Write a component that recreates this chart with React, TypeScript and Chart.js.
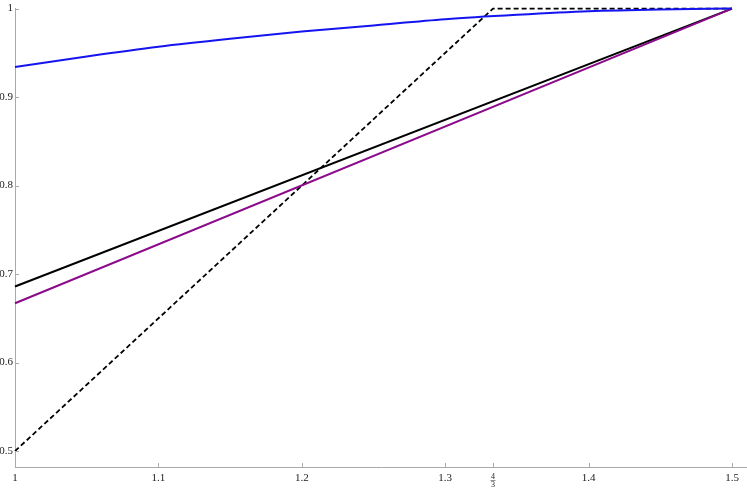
import React, { useEffect, useRef } from "react";
import { Chart, registerables } from "chart.js";

Chart.register(...registerables);

// Data
const blueX = [1, 1.05, 1.1, 1.15, 1.2, 1.25, 1.3, 1.35, 1.4, 1.45, 1.5];
const blueY = [0.934, 0.946, 0.957, 0.966, 0.974, 0.981, 0.988, 0.993, 0.997, 0.999, 1.0];
const lineX = [1, 1.5];
const blackY = [0.686, 1.0];
const purpleY = [0.667, 1.0];
const dashedX = [1, 4 / 3, 1.5];
const dashedY = [0.5, 1.0, 1.0];

const xTicks = [1, 1.1, 1.2, 1.3, 4 / 3, 1.4, 1.5];
const xTickLabels = ["1", "1.1", "1.2", "1.3", "", "1.4", "1.5"];
const yTicks = [0.5, 0.6, 0.7, 0.8, 0.9, 1.0];
const yTickLabels = ["0.5", "0.6", "0.7", "0.8", "0.9", "1"];

const FONT = "'Liberation Serif', 'DejaVu Serif', serif";

const zip = (xs: number[], ys: number[]) => xs.map((x, i) => ({ x, y: ys[i] }));

const axisDecor = {
  id: "axisDecor",
  afterDraw(chart: any) {
    const ctx = chart.ctx;
    const xs = chart.scales.x;
    const ys = chart.scales.y;
    const area = chart.chartArea;
    ctx.save();
    ctx.strokeStyle = "#aaaaaa";
    ctx.lineWidth = 1;
    // inward tick marks
    xTicks.forEach((v) => {
      const px = Math.round(xs.getPixelForValue(v)) + 0.5;
      ctx.beginPath();
      ctx.moveTo(px, area.bottom);
      ctx.lineTo(px, area.bottom - 4);
      ctx.stroke();
    });
    yTicks.forEach((v) => {
      const py = Math.round(ys.getPixelForValue(v)) + 0.5;
      ctx.beginPath();
      ctx.moveTo(area.left, py);
      ctx.lineTo(area.left + 4, py);
      ctx.stroke();
    });
    // 4/3 fraction label
    const fx = xs.getPixelForValue(4 / 3);
    ctx.fillStyle = "#222";
    ctx.font = `8px ${FONT}`;
    ctx.textAlign = "center";
    ctx.textBaseline = "alphabetic";
    ctx.fillText("4", fx, area.bottom + 12);
    ctx.fillText("3", fx, area.bottom + 20);
    ctx.strokeStyle = "#444";
    ctx.lineWidth = 0.6;
    ctx.beginPath();
    ctx.moveTo(fx - 2.5, area.bottom + 13.5);
    ctx.lineTo(fx + 2.5, area.bottom + 13.5);
    ctx.stroke();
    ctx.restore();
  },
};

export default function App() {
  const ref = useRef<HTMLCanvasElement>(null);
  useEffect(() => {
    document.body.style.margin = "0";
    const chart = new Chart(ref.current as HTMLCanvasElement, {
      type: "line",
      data: {
        datasets: [
          {
            data: zip(blueX, blueY),
            borderColor: "#1414f0",
            borderWidth: 2,
            pointRadius: 0,
            cubicInterpolationMode: "monotone",
            clip: false,
          },
          {
            data: zip(lineX, purpleY),
            borderColor: "#8b0a8b",
            borderWidth: 2,
            pointRadius: 0,
            clip: false,
          },
          {
            data: zip(lineX, blackY),
            borderColor: "#000000",
            borderWidth: 2,
            pointRadius: 0,
            clip: false,
          },
          {
            data: zip(dashedX, dashedY),
            borderColor: "#000000",
            borderWidth: 1.8,
            borderDash: [5, 3],
            pointRadius: 0,
            clip: false,
          },
        ],
      } as any,
      options: {
        animation: false,
        responsive: false,
        layout: { padding: { left: 0, right: 0, top: 6, bottom: 0 } },
        plugins: { legend: { display: false }, tooltip: { enabled: false } },
        scales: {
          x: {
            type: "linear",
            min: 1,
            max: 1 + 732 / 1434,
            grid: { display: false, drawTicks: false },
            border: { display: true, color: "#aaaaaa", width: 1 },
            afterBuildTicks: (s: any) => {
              s.ticks = xTicks.map((v) => ({ value: v }));
            },
            afterFit: (s: any) => {
              s.height = 21;
            },
            ticks: {
              padding: 5,
              autoSkip: false,
              maxRotation: 0,
              color: "#222",
              font: { family: FONT, size: 11 },
              callback: (v: any) => {
                const i = xTicks.findIndex((t) => Math.abs(t - Number(v)) < 1e-9);
                return i >= 0 ? xTickLabels[i] : "";
              },
            },
          },
          y: {
            type: "linear",
            min: 1 - 461 / 890,
            max: 1,
            grid: { display: false, drawTicks: false },
            border: { display: true, color: "#aaaaaa", width: 1 },
            afterBuildTicks: (s: any) => {
              s.ticks = yTicks.map((v) => ({ value: v }));
            },
            afterFit: (s: any) => {
              s.width = 15;
            },
            ticks: {
              padding: 2,
              autoSkip: false,
              color: "#222",
              font: { family: FONT, size: 11 },
              callback: (v: any) => {
                const i = yTicks.findIndex((t) => Math.abs(t - Number(v)) < 1e-9);
                return i >= 0 ? yTickLabels[i] : "";
              },
            },
          },
        },
      } as any,
      plugins: [axisDecor],
    });
    return () => chart.destroy();
  }, []);
  return (
    <div style={{ position: "absolute", left: 0, top: 0, width: 747, height: 488 }}>
      <canvas ref={ref} width={747} height={488} style={{ display: "block" }} />
    </div>
  );
}
